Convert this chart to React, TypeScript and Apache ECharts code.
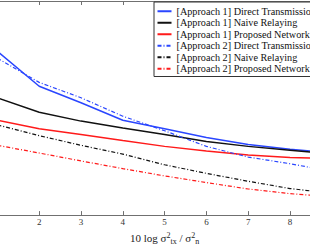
import React, { useEffect, useRef } from "react";
import * as echarts from "echarts";

const snrValues = [1, 2, 3, 4, 5, 6, 7, 8, 9];
const seriesNames = [
  "[Approach 1] Direct Transmission",
  "[Approach 1] Naive Relaying",
  "[Approach 1] Proposed Network Coding",
  "[Approach 2] Direct Transmission",
  "[Approach 2] Naive Relaying",
  "[Approach 2] Proposed Network Coding",
];
const a1Direct = [0.765, 0.602, 0.525, 0.443, 0.403, 0.362, 0.33, 0.308, 0.29];
const a1Naive = [0.548, 0.48, 0.439, 0.407, 0.376, 0.344, 0.321, 0.303, 0.285];
const a1Proposed = [0.443, 0.403, 0.376, 0.348, 0.321, 0.299, 0.281, 0.269, 0.265];
const a2Direct = [0.733, 0.62, 0.548, 0.462, 0.394, 0.321, 0.271, 0.24, 0.204];
const a2Naive = [0.421, 0.371, 0.326, 0.285, 0.235, 0.195, 0.158, 0.124, 0.102];
const a2Proposed = [0.326, 0.29, 0.253, 0.217, 0.183, 0.152, 0.122, 0.1, 0.086];

const FONT = "Liberation Serif";
const BLUE = "#2a46ff";
const RED = "#ff1a1a";
const BLACK = "#111111";
const DASHDOT = [4, 2, 1, 2];

export default function App() {
  const ref = useRef<HTMLDivElement>(null);
  useEffect(() => {
    if (!ref.current) return;
    const chart = echarts.init(ref.current, undefined, { renderer: "svg" });
    const mk = (name: string, data: number[], color: string, dashed: boolean) => ({
      name,
      type: "line",
      data: snrValues.map((x, i) => [x, data[i]]),
      symbol: "none",
      smooth: false,
      lineStyle: { color, width: dashed ? 1.2 : 1.5, type: dashed ? DASHDOT : "solid" },
      itemStyle: { color },
      z: dashed ? 3 : 2,
    });
    chart.setOption({
      animation: false,
      backgroundColor: "#ffffff",
      grid: { left: 37.4, right: 18.2, top: 1, bottom: 28, show: false },
      xAxis: [
        {
          type: "value",
          min: 1,
          max: 9,
          interval: 1,
          position: "bottom",
          name: "10 log σ{sup|2}{sub|tx} / σ{sup|2}{sub|n}",
          nameLocation: "middle",
          nameGap: 12,
          nameTextStyle: {
            fontFamily: FONT,
            fontSize: 11,
            color: "#222",
            rich: {
              sup: { fontFamily: FONT, fontSize: 8, verticalAlign: "top", padding: [0, 0, 6, 0], color: "#222" },
              sub: { fontFamily: FONT, fontSize: 8, verticalAlign: "bottom", padding: [6, 0, 0, 0], color: "#222" },
            },
          },
          axisLine: { show: true, onZero: false, lineStyle: { color: "#707070", width: 1.2 } },
          axisTick: { show: true, inside: true, length: 4, lineStyle: { color: "#707070" } },
          axisLabel: {
            fontFamily: FONT,
            fontSize: 9,
            color: "#333",
            margin: 2,
            formatter: (v: number) => (v === 1 || v === 9 ? "" : String(v)),
          },
          splitLine: { show: false },
        },
        {
          type: "value",
          min: 1,
          max: 9,
          interval: 1,
          position: "top",
          axisLine: { show: true, onZero: false, lineStyle: { color: "#707070", width: 1.2 } },
          axisTick: { show: true, inside: true, length: 4, lineStyle: { color: "#707070" } },
          axisLabel: { show: false },
          splitLine: { show: false },
        },
      ],
      yAxis: { type: "value", min: 0, max: 1, show: false },
      legend: {
        orient: "vertical",
        left: 194,
        top: 2,
        padding: [3.5, 6, 2, 2.5],
        itemWidth: 14,
        itemHeight: 10,
        itemGap: 0,
        backgroundColor: "#ffffff",
        borderColor: "#333",
        borderWidth: 1,
        borderRadius: 0,
        itemStyle: { opacity: 0 },
        textStyle: { fontFamily: FONT, fontSize: 10.2, color: "#111", lineHeight: 11.5 },
        data: seriesNames,
      },
      series: [
        mk(seriesNames[0], a1Direct, BLUE, false),
        mk(seriesNames[1], a1Naive, BLACK, false),
        mk(seriesNames[2], a1Proposed, RED, false),
        mk(seriesNames[3], a2Direct, BLUE, true),
        mk(seriesNames[4], a2Naive, BLACK, true),
        mk(seriesNames[5], a2Proposed, RED, true),
      ],
    });
    return () => chart.dispose();
  }, []);
  return (
    <div style={{ position: "fixed", left: 0, top: 0, width: 310, height: 250, overflow: "hidden", background: "#fff" }}>
      <div ref={ref} style={{ position: "absolute", left: -40, top: 0, width: 390, height: 250 }} />
    </div>
  );
}
